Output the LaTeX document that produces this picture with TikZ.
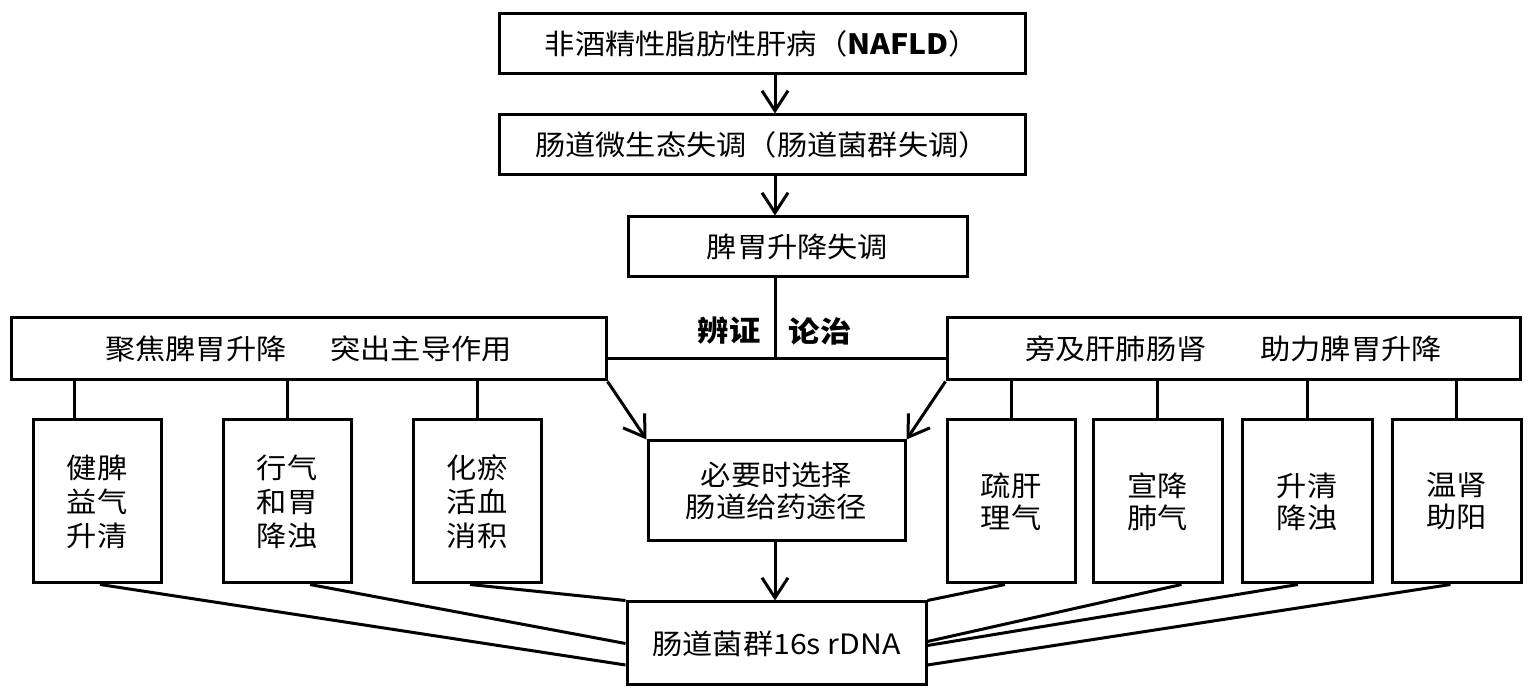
\documentclass[tikz,border=0pt]{standalone}
\usepackage{fontspec}
\newfontfamily\cjk[FakeStretch=1.08]{Noto Sans CJK SC}
\usetikzlibrary{arrows.meta,calc}
\begin{document}
\begin{tikzpicture}[x=0.5pt,y=-0.5pt,
  box/.style={draw, line width=1.5pt, inner sep=0pt, align=center, font=\cjk\fontsize{14pt}{17pt}\selectfont},
  sbox/.style={box, minimum width=64pt, minimum height=81.5pt},
  sboxtwo/.style={sbox, font=\cjk\fontsize{14pt}{16pt}\selectfont},
  lbl/.style={inner sep=0pt, font=\cjk\fontsize{14.5pt}{17pt}\selectfont\bfseries},
  ln/.style={line width=1.5pt},
  arr/.style={line width=1.5pt, -{Straight Barb[length=10pt,width=13pt,line width=1.5pt]}}]
\useasboundingbox (0,0) rectangle (1533,699);
% top chain
\node[box, minimum width=263pt, minimum height=30pt] (n1) at (762,44) {非酒精性脂肪性肝病（{\bfseries NAFLD}）};
\node[box, minimum width=263pt, minimum height=30pt] (n2) at (762,145) {肠道微生态失调（肠道菌群失调）};
\node[box, minimum width=169.5pt, minimum height=30pt] (n3) at (797.5,247) {脾胃升降失调};
% headers
\node[box, minimum width=297.5pt, minimum height=31pt] (L) at (308.5,349) {聚焦脾胃升降\hspace{22pt}突出主导作用};
\node[box, minimum width=286.5pt, minimum height=31pt] (R) at (1233.5,349) {旁及肝肺肠肾\hspace{27pt}助力脾胃升降};
\node[lbl] (t1) at (729,331) {辨证};
\node[lbl] (t2) at (820,331) {论治};
% small boxes
\node[sbox] (l1) at (97,501.5) {健脾\\益气\\升清};
\node[sbox] (l2) at (287,501.5) {行气\\和胃\\降浊};
\node[sbox] (l3) at (477,501.5) {化瘀\\活血\\消积};
\node[sboxtwo] (r1) at (1011,501.5) {疏肝\\理气};
\node[sboxtwo, minimum width=64.5pt] (r2) at (1157.5,501.5) {宣降\\肺气};
\node[sboxtwo, minimum width=65pt] (r3) at (1307,501.5) {升清\\降浊};
\node[sboxtwo, minimum width=64.5pt] (r4) at (1456.5,501.5) {温肾\\助阳};
% center and bottom
\node[box, font=\cjk\fontsize{14pt}{16pt}\selectfont, minimum width=128.5pt, minimum height=50pt] (C) at (776.5,491) {必要时选择\\肠道给药途径};
\node[box, minimum width=149.5pt, minimum height=41.5pt] (B) at (776.5,643.5) {肠道菌群16s rDNA};
% connectors
\coordinate (ax) at (775,0);
\coordinate (J) at (775,359);
\coordinate (k1) at (74,0);
\draw[arr] (n1.south -| ax) -- (n2.north -| ax);
\draw[arr] (n2.south -| ax) -- (n3.north -| ax);
\draw[ln] (n3.south -| ax) -- (J);
\draw[ln] (J -| L.east) -- (J -| R.west);
\draw[arr] (L.south east) -- (C.north west);
\draw[arr] (R.south west) -- (C.north east);
\draw[arr] (C.south -| ax) -- (B.north -| ax);
\draw[ln] (k1 |- L.south) -- (k1 |- l1.north);
\draw[ln] (l2.north |- L.south) -- (l2.north);
\draw[ln] (l3.north |- L.south) -- (l3.north);
\draw[ln] (r1.north |- R.south) -- (r1.north);
\draw[ln] (r2.north |- R.south) -- (r2.north);
\draw[ln] (r3.north |- R.south) -- (r3.north);
\draw[ln] (r4.north |- R.south) -- (r4.north);
% lines to bottom box
\draw[ln] ([xshift=1.5pt]l1.south) -- ([yshift=-10.75pt]B.west);
\draw[ln] ([xshift=11.5pt]l2.south) -- (B.west);
\draw[ln] ([xshift=-3.5pt]l3.south) -- (B.north west);
\draw[ln] ([xshift=-3pt]r1.south) -- (B.north east);
\draw[ln] ([xshift=12pt]r2.south) -- ([yshift=1pt]B.east);
\draw[ln] ([xshift=-4.5pt]r3.south) -- ([yshift=-1pt]B.east);
\draw[ln] ([xshift=-3pt]r4.south) -- ([yshift=-10.75pt]B.east);
\end{tikzpicture}
\end{document}
